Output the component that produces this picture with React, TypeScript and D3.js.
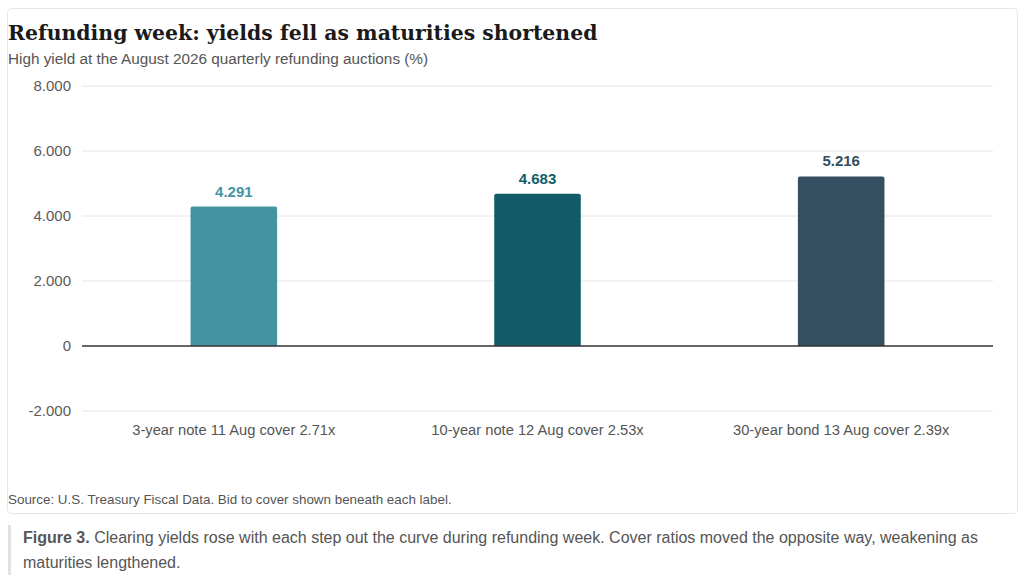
import React from "react";
import * as d3 from "d3";

const categories: string[] = [
  "3-year note 11 Aug cover 2.71x",
  "10-year note 12 Aug cover 2.53x",
  "30-year bond 13 Aug cover 2.39x",
];
const yields: number[] = [4.291, 4.683, 5.216];
const barColors: string[] = ["#4393a1", "#115c67", "#344f60"];
const yTicks: number[] = [-2, 0, 2, 4, 6, 8];

const W = 1024;
const H = 584;
const sans = "Liberation Sans, Arial, Helvetica, sans-serif";
const serif = "DejaVu Serif, Georgia, serif";

export default function App() {
  const plotLeft = 82;
  const plotRight = 993;
  const x = d3.scaleBand<string>().domain(categories).range([plotLeft, plotRight]).padding(0);
  const y = d3.scaleLinear().domain([-2, 8]).range([411, 86]);
  const barW = x.bandwidth() * 0.285;
  const fmt = (v: number) => (v === 0 ? "0" : d3.format(".3f")(v).replace("\u2212", "-"));

  return (
    <div style={{ position: "absolute", left: 0, top: 0, width: W, height: H, background: "#fff" }}>
      <svg width={W} height={H} viewBox={`0 0 ${W} ${H}`} style={{ display: "block" }}>
        <rect x={7.5} y={8.5} width={1010} height={505} rx={4} fill="#fff" stroke="#e6e6e6" strokeWidth={1} />
        <text x={8} y={40} fontFamily={serif} fontWeight={700} fontSize={20.4} fill="#1a1a1a">
          Refunding week: yields fell as maturities shortened
        </text>
        <text x={8} y={64} fontFamily={sans} fontSize={15.3} fill="#555">
          High yield at the August 2026 quarterly refunding auctions (%)
        </text>
        {yTicks.map((t) => (
          <g key={t}>
            {t !== 0 && (
              <line x1={plotLeft} x2={plotRight} y1={y(t)} y2={y(t)} stroke="#e4e4e4" strokeWidth={1} />
            )}
            <text x={71} y={y(t)} dy="0.35em" textAnchor="end" fontFamily={sans} fontSize={15} fill="#5a5a5a">
              {fmt(t)}
            </text>
          </g>
        ))}
        {categories.map((c, i) => {
          const cx = (x(c) as number) + x.bandwidth() / 2;
          const top = y(yields[i]);
          const bottom = y(0);
          const r = 2;
          const x0 = cx - barW / 2;
          const x1 = cx + barW / 2;
          const path = `M${x0},${bottom} L${x0},${top + r} Q${x0},${top} ${x0 + r},${top} L${x1 - r},${top} Q${x1},${top} ${x1},${top + r} L${x1},${bottom} Z`;
          return (
            <g key={c}>
              <path d={path} fill={barColors[i]} />
              <text x={cx} y={top - 10} textAnchor="middle" fontFamily={sans} fontWeight={700} fontSize={15} fill={barColors[i]}>
                {yields[i].toFixed(3)}
              </text>
              <text x={cx} y={435} textAnchor="middle" fontFamily={sans} fontSize={14.7} fill="#555">
                {c}
              </text>
            </g>
          );
        })}
        <line x1={plotLeft} x2={plotRight} y1={y(0)} y2={y(0)} stroke="#333" strokeWidth={1.5} />
        <text x={8} y={504} fontFamily={sans} fontSize={13.4} fill="#555">
          Source: U.S. Treasury Fiscal Data. Bid to cover shown beneath each label.
        </text>
        <rect x={8} y={525} width={3} height={50} fill="#e2e2e2" />
        <text x={23} y={543} fontFamily={sans} fontSize={16} fill="#555">
          <tspan fontWeight={700}>Figure 3.</tspan> Clearing yields rose with each step out the curve during refunding week. Cover ratios moved the opposite way, weakening as
        </text>
        <text x={23} y={568} fontFamily={sans} fontSize={16} fill="#555">
          maturities lengthened.
        </text>
      </svg>
    </div>
  );
}
